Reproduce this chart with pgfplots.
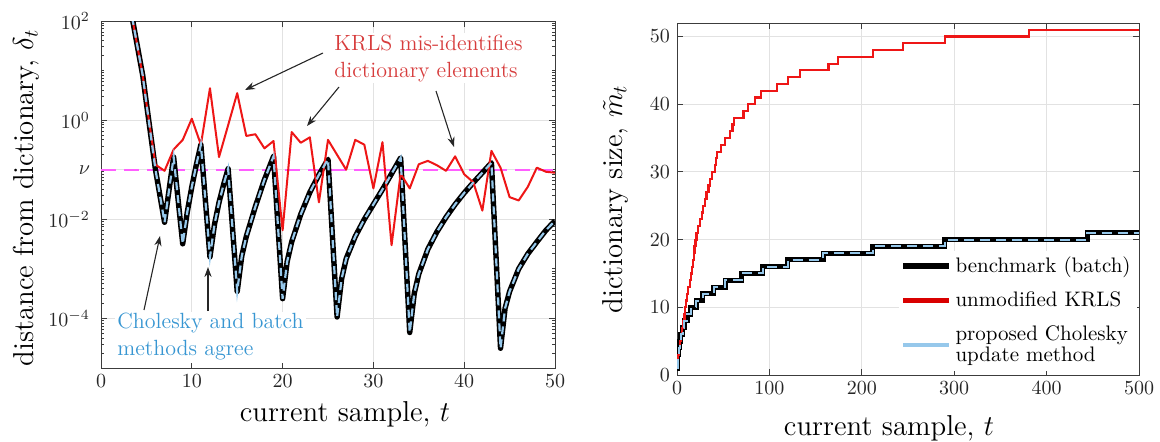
\documentclass[border=0pt]{standalone}
\usepackage{pgfplots}
\pgfplotsset{compat=1.18}
\usetikzlibrary{arrows.meta}
\definecolor{krred}{RGB}{238,22,22}
\definecolor{lblue}{RGB}{150,200,235}
\definecolor{nucol}{RGB}{255,95,255}
\definecolor{gridc}{RGB}{226,226,226}
\definecolor{axc}{RGB}{60,60,60}
\definecolor{txtred}{RGB}{215,60,60}
\definecolor{txtblue}{RGB}{55,150,210}
\newcommand\lbl{\fontsize{14.4}{16}\selectfont}
\begin{document}
\begin{tikzpicture}
\useasboundingbox (0,0) rectangle (580pt,220.5pt);
\pgfplotsset{
  myax/.style={
    scale only axis, anchor=south west,
    axis line style={axc, line width=0.5pt},
    grid=major, major grid style={gridc, line width=0.5pt},
    tick style={axc, line width=0.5pt},
    major tick length=3pt, minor tick length=1.6pt,
    tick label style={font=\fontsize{10}{12}\selectfont, text=black!85},
  }
}
% ---------------- left axis ----------------
\begin{axis}[myax,
  at={(50.5pt,36.5pt)}, width=227pt, height=173.5pt,
  xmin=0, xmax=50, ymode=log, ymin=1e-5, ymax=1e2,
  xtick={0,10,20,30,40,50},
  ytick={1e-4,1e-2,0.1,1,100},
  yticklabels={$10^{-4}$,$10^{-2}$,$\nu$,$10^{0}$,$10^{2}$},
  yticklabel style={xshift=-2pt},
  minor ytick={1e-5,2e-5,3e-5,4e-5,5e-5,6e-5,7e-5,8e-5,9e-5,
    2e-4,3e-4,4e-4,5e-4,6e-4,7e-4,8e-4,9e-4,
    1e-3,2e-3,3e-3,4e-3,5e-3,6e-3,7e-3,8e-3,9e-3,
    2e-2,3e-2,4e-2,5e-2,6e-2,7e-2,8e-2,9e-2,
    2e-1,3e-1,4e-1,5e-1,6e-1,7e-1,8e-1,9e-1,
    2,3,4,5,6,7,8,9,10,20,30,40,50,60,70,80,90},
]
\addplot[nucol, line width=1.2pt, dash pattern=on 7.5pt off 4pt] coordinates {(0,0.1) (50,0.1)};
% benchmark (batch)
\addplot[black, line width=2.7pt, line join=round] table {
x y
3.0 398
3.5 100
4.6 7.9
5.0 2.2
6.0 0.1
7.0 8.7e-3
8.0 0.18
9.0 3.2e-3
9.5 1.4e-2
10.0 4.5e-2
10.5 0.126
11.0 0.32
12.0 1.74e-3
12.5 7.9e-3
13.0 2.2e-2
13.5 5.0e-2
14.0 0.105
15.0 3.5e-4
15.5 1.8e-3
16.0 4.5e-3
17.0 1.8e-2
18.0 6.3e-2
19.0 0.186
20.0 2.5e-4
20.5 1.4e-3
21.0 3.5e-3
22.0 1.26e-2
23.0 3.5e-2
24.0 7.9e-2
25.0 0.162
26.0 1.07e-4
26.5 6.3e-4
27.0 1.6e-3
28.0 4.5e-3
29.0 1.0e-2
30.0 2.0e-2
31.0 4.0e-2
32.0 8.3e-2
33.0 0.174
34.0 5.2e-5
34.5 3.2e-4
35.0 7.9e-4
36.0 2.5e-3
37.0 5.6e-3
38.0 1.1e-2
39.0 2.0e-2
40.0 3.4e-2
41.0 5.5e-2
42.0 8.7e-2
43.0 0.138
44.0 2.5e-5
44.5 1.6e-4
45.0 3.5e-4
46.0 1.0e-3
47.0 2.0e-3
48.0 3.5e-3
49.0 6.0e-3
50.0 9.3e-3
};
% unmodified KRLS
\addplot[krred, line width=1pt, line join=round] table {
x y
3.0 398
3.5 100
4.6 7.9
5.0 2.2
6.0 0.126
7.0 0.095
8.0 0.257
9.0 0.40
10.0 1.07
11.0 0.32
12.0 4.4
13.0 0.18
14.0 0.79
15.0 3.5
16.0 0.48
17.0 0.52
18.0 0.27
19.0 0.38
20.0 6.0e-3
21.0 0.575
22.0 0.35
23.0 0.45
24.0 2.2e-2
25.0 0.40
26.0 0.20
27.0 0.10
28.0 0.40
29.0 0.32
30.0 4.2e-2
31.0 0.36
32.0 3.0e-3
33.0 8.3e-2
34.0 4.2e-2
35.0 0.129
36.0 0.151
37.0 0.123
38.0 0.095
39.0 0.186
40.0 8.1e-2
41.0 5.6e-2
42.0 1.5e-2
43.0 0.24
44.0 0.11
45.0 2.8e-2
46.0 2.4e-2
47.0 4.5e-2
48.0 0.11
49.0 9.1e-2
50.0 8.7e-2
};
% proposed Cholesky
\addplot[lblue, line width=1.1pt, dash pattern=on 4pt off 2.5pt] table {
x y
3.0 398
3.5 100
4.6 7.9
5.0 2.2
6.0 0.1
7.0 8.7e-3
8.0 0.18
9.0 3.2e-3
9.5 1.4e-2
10.0 4.5e-2
10.5 0.126
11.0 0.32
12.0 1.74e-3
12.5 7.9e-3
13.0 2.2e-2
13.5 5.0e-2
14.0 0.105
15.0 3.5e-4
15.5 1.8e-3
16.0 4.5e-3
17.0 1.8e-2
18.0 6.3e-2
19.0 0.186
20.0 2.5e-4
20.5 1.4e-3
21.0 3.5e-3
22.0 1.26e-2
23.0 3.5e-2
24.0 7.9e-2
25.0 0.162
26.0 1.07e-4
26.5 6.3e-4
27.0 1.6e-3
28.0 4.5e-3
29.0 1.0e-2
30.0 2.0e-2
31.0 4.0e-2
32.0 8.3e-2
33.0 0.174
34.0 5.2e-5
34.5 3.2e-4
35.0 7.9e-4
36.0 2.5e-3
37.0 5.6e-3
38.0 1.1e-2
39.0 2.0e-2
40.0 3.4e-2
41.0 5.5e-2
42.0 8.7e-2
43.0 0.138
44.0 2.5e-5
44.5 1.6e-4
45.0 3.5e-4
46.0 1.0e-3
47.0 2.0e-3
48.0 3.5e-3
49.0 6.0e-3
50.0 9.3e-3
};
\end{axis}
% ---------------- right axis ----------------
\begin{axis}[myax,
  at={(338.5pt,33pt)}, width=231pt, height=176pt,
  xmin=0, xmax=500, ymin=0, ymax=52,
  xtick={0,100,200,300,400,500},
  ytick={0,10,20,30,40,50},
  legend image code/.code={\draw[#1] (0cm,0cm) -- (0.8cm,0cm);},
  legend cell align=left,
  legend style={at={(1,0)}, anchor=south east, xshift=-1pt, yshift=2pt,
    draw=none, fill=white, inner sep=1pt,
    font=\fontsize{10.5}{10.8}\selectfont, row sep=4pt,
    cells={align=left}},
]
\addplot[const plot, black, line width=2.5pt, forget plot] table {
x y
0 1
1 3
2 4
3 5
4 6
6 7
8 8
11 9
15 10
21 11
28 12
40 13
52 14
70 15
93 16
120 17
158 18
212 19
290 20
444 21
500 21
};
\addplot[const plot, krred, line width=1.1pt, forget plot] table {
x y
0 2
1 3
2 4
3 5
4 6
5 7
7 8
8 9
9 10
10 11
11 12
12 13
14 14
15 15
16 16
17 17
18 18
19 19
20 20
21 21
23 22
25 23
27 24
28 25
30 26
32 27
34 28
36 29
38 30
41 31
42 32
43 33
48 34
52 35
57 36
60 37
62 38
72 39
77 40
84 41
91 42
108 43
120 44
133 45
164 46
174 47
212 48
245 49
290 50
381 51
500 51
};
\addplot[const plot, lblue, line width=1pt, dash pattern=on 5pt off 3pt, forget plot] table {
x y
0 1
1 3
2 4
3 5
4 6
6 7
8 8
11 9
15 10
21 11
28 12
40 13
52 14
70 15
93 16
120 17
158 18
212 19
290 20
444 21
500 21
};
\addlegendimage{black, line width=2.6pt}
\addlegendentry{benchmark (batch)}
\addlegendimage{red!85!black, line width=2.4pt}
\addlegendentry{unmodified KRLS}
\addlegendimage{lblue, line width=2.4pt}
\addlegendentry{proposed Cholesky\\update method}
\end{axis}
% ---------------- labels and annotations (pixel frame) ----------------
\begin{scope}[x=0.5pt, y=-0.5pt, shift={(0pt,220.5pt)}]
\node[rotate=90, font=\lbl] at (26,198) {distance from dictionary, $\delta_t$};
\node[font=\lbl] at (345,414) {current sample, $t$};
\node[rotate=90, font=\lbl] at (615,199) {dictionary size, $\tilde{m}_t$};
\node[font=\lbl] at (889,428) {current sample, $t$};
\node[anchor=west, align=left, fill=white, inner sep=1pt, text=txtred,
  font=\fontsize{11}{13.5}\selectfont] at (332,58)
  {KRLS mis-identifies\\dictionary elements};
\node[anchor=west, align=left, fill=white, inner sep=1pt, text=txtblue,
  font=\fontsize{11}{13.5}\selectfont] at (115,337)
  {Cholesky and batch\\methods agree};
\begin{scope}[black!85, line width=0.55pt, -{Stealth[length=5pt,width=3.6pt]}]
\draw (323,53) -- (245,90);
\draw (339,87) -- (307,126);
\draw (436,91) -- (454,147);
\draw (144,310) -- (160,236);
\draw (208,311) -- (208,267);
\end{scope}
\end{scope}
\end{tikzpicture}
\end{document}
